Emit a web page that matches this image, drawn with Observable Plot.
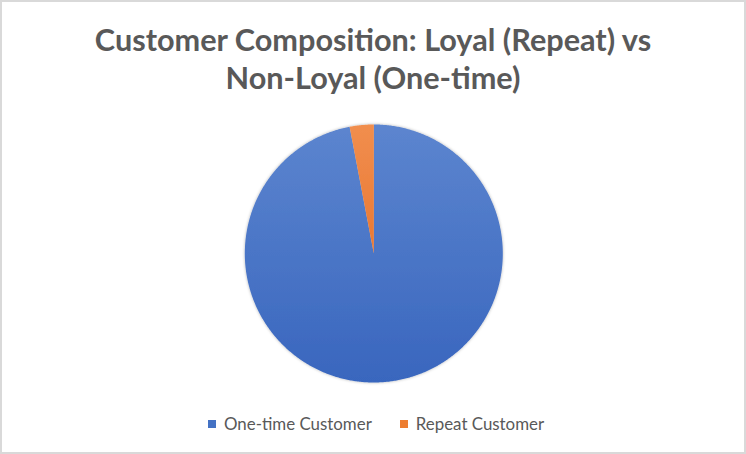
<!DOCTYPE html>
<html>
<head>
<meta charset="utf-8">
<script src="https://cdn.jsdelivr.net/npm/d3@7"></script>
<script src="https://cdn.jsdelivr.net/npm/@observablehq/plot@0.6"></script>
<style>
  html, body { margin: 0; padding: 0; background: #fff; }
  #chart { position: relative; width: 746px; height: 454px; overflow: hidden; background: #fff; font-family: Lato, "Open Sans", sans-serif; }
  #frame { position: absolute; left: 0; top: 0; width: 746px; height: 454px; box-sizing: border-box; border: 2px solid #d9d9d9; pointer-events: none; }
  #title { position: absolute; left: 0; width: 746px; top: 0; text-align: center; color: #595959; font-weight: 700; white-space: nowrap; }
  #title div { position: absolute; left: 0; width: 746px; text-align: center; }
  #legend { position: absolute; left: 208px; top: 413px; display: flex; align-items: center; color: #595959; white-space: nowrap; }
  .sw { width: 8px; height: 8px; display: inline-block; }
  #plot { position: absolute; left: 0; top: 0; }
</style>
</head>
<body>
<div id="chart">
  <div id="plot"></div>
  <div id="title"></div>
  <div id="legend"></div>
  <div id="frame"></div>
</div>
<script>
const titleLines = ["Customer Composition: Loyal (Repeat) vs", "Non-Loyal (One-time)"];
const categories = ["One-time Customer", "Repeat Customer"];
const shares = [97, 3];

const gradIds = ["gBlue", "gOrange"];
const swatch = ["#4472C4", "#ED7D31"];

// measure helper for font fitting
const cv = document.createElement("canvas").getContext("2d");
function fit(text, weight, targetWidth) {
  cv.font = `${weight} 100px Lato`;
  return 100 * targetWidth / cv.measureText(text).width;
}

// Title
const titleSize = fit(titleLines[0], 700, 558);
const titleEl = document.getElementById("title");
const baselines = [51, 89];
titleLines.forEach((t, i) => {
  const d = document.createElement("div");
  d.textContent = t;
  d.style.fontSize = titleSize + "px";
  d.style.lineHeight = "1";
  d.style.top = (baselines[i] - titleSize * 0.86) + "px";
  titleEl.appendChild(d);
});

// Pie geometry from the data
const arcs = d3.pie().sort(null).value(d => d)(shares);
const pts = arcs.flatMap((a, i) => {
  const n = Math.max(2, Math.ceil((a.endAngle - a.startAngle) / (2 * Math.PI) * 720));
  const out = [{c: categories[i], x: 0, y: 0}];
  for (let k = 0; k <= n; k++) {
    const t = a.startAngle + (a.endAngle - a.startAngle) * k / n;
    out.push({c: categories[i], x: Math.sin(t), y: Math.cos(t)});
  }
  out.push({c: categories[i], x: 0, y: 0});
  return out;
});

const R = 129;
const cx = 373.3, cy = 253;
const W = 746, H = 454;
const svg = Plot.plot({
  width: W,
  height: H,
  marginLeft: cx - R,
  marginRight: W - (cx + R),
  marginTop: cy - R,
  marginBottom: H - (cy + R),
  x: {domain: [-1, 1], axis: null},
  y: {domain: [-1, 1], axis: null},
  color: {domain: categories, range: gradIds.map(id => `url(#${id})`)},
  style: {background: "transparent", overflow: "visible"},
  marks: [
    Plot.line(pts, {x: "x", y: "y", z: "c", fill: "c", stroke: "none", curve: "linear"})
  ]
});

d3.select(svg).insert("defs", ":first-child").html(`
  <linearGradient id="gBlue" x1="0" y1="0" x2="0" y2="1">
    <stop offset="0" stop-color="#5C85CF"/>
    <stop offset="1" stop-color="#3966BE"/>
  </linearGradient>
  <linearGradient id="gOrange" x1="0" y1="0" x2="0" y2="1">
    <stop offset="0" stop-color="#F18E4E"/>
    <stop offset="1" stop-color="#E97833"/>
  </linearGradient>
  <filter id="sh" x="-10%" y="-10%" width="120%" height="120%">
    <feDropShadow dx="0" dy="0" stdDeviation="1.5" flood-color="#000" flood-opacity="0.3"/>
  </filter>
`);
svg.querySelectorAll('g[aria-label="line"]').forEach(g => g.setAttribute("filter", "url(#sh)"));
document.getElementById("plot").appendChild(svg);

// Legend
const legSize = fit(categories[0], 400, 148);
const leg = document.getElementById("legend");
categories.forEach((c, i) => {
  const s = document.createElement("span");
  s.className = "sw";
  s.style.background = swatch[i];
  s.style.marginLeft = i === 0 ? "0px" : "28px";
  s.style.marginRight = "8px";
  const t = document.createElement("span");
  t.textContent = c;
  t.style.fontSize = legSize + "px";
  leg.appendChild(s);
  leg.appendChild(t);
});
</script>
</body>
</html>
